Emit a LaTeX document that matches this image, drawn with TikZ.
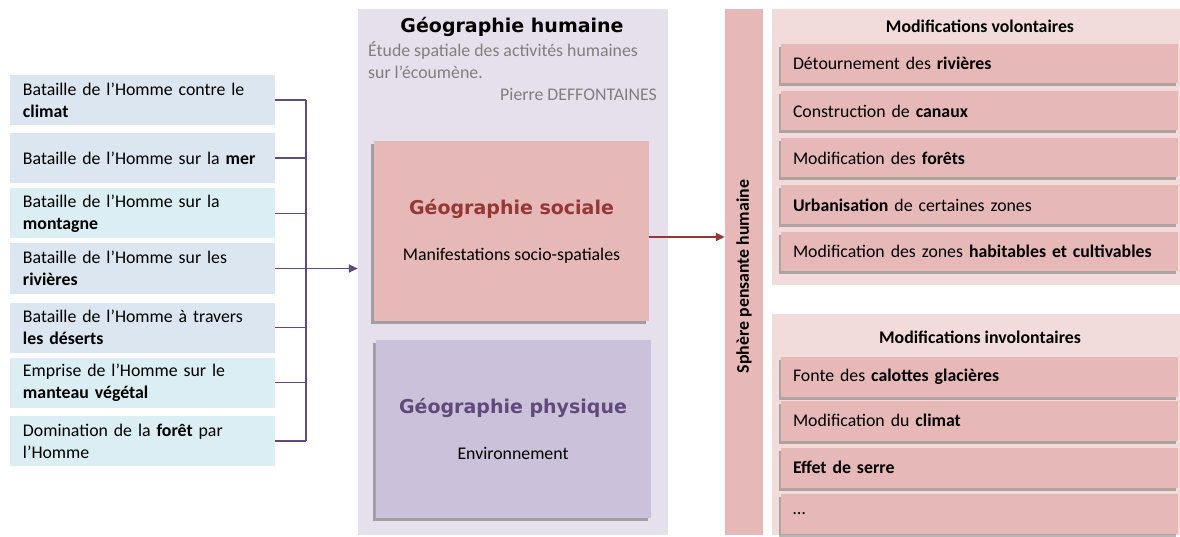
\documentclass[tikz,border=0pt]{standalone}
\usepackage{fontspec}
\setmainfont{Carlito}
\newfontfamily\headfont{DejaVu Sans}
\usetikzlibrary{arrows.meta,shadows}
\definecolor{lblue}{RGB}{220,230,241}
\definecolor{laqua}{RGB}{218,238,243}
\definecolor{busline}{RGB}{96,74,123}
\definecolor{lavend}{RGB}{229,224,236}
\definecolor{srose}{RGB}{230,185,184}
\definecolor{spale}{RGB}{242,220,219}
\definecolor{sred}{RGB}{149,55,53}
\definecolor{pviol}{RGB}{204,193,218}
\definecolor{greytxt}{RGB}{127,127,127}
\newcommand\body{\fontsize{17.8}{22}\selectfont}
\newcommand\head{\headfont\bfseries\fontsize{19}{22}\selectfont}

\begin{document}
\begin{tikzpicture}[x=1pt, y=-1pt,
    lbox/.style={fill=#1, minimum width=265pt, minimum height=50pt,
                 text width=239pt, inner xsep=13pt, inner ysep=0pt,
                 align=left, font=\body},
    bus/.style={draw=busline, line width=1.6pt},
    pan/.style={fill=#1, inner sep=0pt},
    geo/.style={fill=#1, minimum width=275pt, minimum height=180pt,
                align=center, font=\body,
                drop shadow={shadow xshift=-3pt, shadow yshift=-3pt,
                             opacity=0.45, fill=black!70}},
    item/.style={fill=srose, minimum width=397pt, minimum height=39pt,
                 text width=373pt, inner xsep=12pt, inner ysep=0pt,
                 align=left, font=\body,
                 drop shadow={shadow xshift=-2pt, shadow yshift=-3pt,
                              opacity=0.4, fill=black!70}},
    ptitle/.style={font=\body\bfseries}]
  \useasboundingbox (0,0) rectangle (1180,537);

  % ---------- left: the battles of Man --------------------------------------
  \foreach \i/\y/\c/\t in {
      1/100/lblue/{Bataille de l’Homme contre le\\\textbf{climat}},
      2/158/lblue/{Bataille de l’Homme sur la \textbf{mer}},
      3/213.5/laqua/{Bataille de l’Homme sur la\\\textbf{montagne}},
      4/268.5/lblue/{Bataille de l’Homme sur les\\\textbf{rivières}},
      5/327.5/lblue/{Bataille de l’Homme à travers\\\textbf{les déserts}},
      6/382.5/laqua/{Emprise de l’Homme sur le\\\textbf{manteau végétal}},
      7/441/laqua/{Domination de la \textbf{forêt} par\\l’Homme}} {
    \node[lbox=\c] (l\i) at (142.5,\y) {\t};
  }
  \coordinate (bustop) at (306,100);
  \coordinate (busbot) at (306,441);
  \foreach \i in {1,...,7} { \draw[bus] (l\i.east) -- (l\i.east -| bustop); }
  \draw[bus] (bustop) -- (busbot);

  % ---------- centre: human geography ---------------------------------------
  \node[pan=lavend, minimum width=310pt, minimum height=526pt] (hum) at (513,272) {};
  \node[font=\head] (htitle) at (512,27) {Géographie humaine};
  \node[font=\body, color=greytxt, align=left, anchor=north west, inner sep=0pt]
    (hsub) at (368,41) {Étude spatiale des activités humaines\\sur l’écoumène.};
  \node[font=\body, color=greytxt, anchor=east, inner sep=0pt]
    (hauth) at (657,94) {Pierre DEFFONTAINES};
  \draw[bus, -{Triangle[length=9pt,width=8pt]}] (l4.east -| bustop) -- (hum.west |- l4.east);

  \node[geo=srose] (soc) at (511.5,231)
    {{\head\color{sred}Géographie sociale}\\[24pt]Manifestations socio-spatiales};
  \node[geo=pviol, minimum height=178pt] (phy) at (513,429)
    {{\head\color{busline}Géographie physique}\\[24pt]Environnement};

  % ---------- right: the thinking sphere ------------------------------------
  \node[pan=srose, rotate=90, minimum width=526pt, minimum height=38pt,
        font=\body\bfseries] (sph) at (744,272) {Sphère pensante humaine\hspace*{9pt}};
  \draw[sred, line width=1.6pt, -{Triangle[length=9pt,width=8pt]}]
    ([yshift=-6pt]soc.east) -- ([yshift=-6pt]soc.east -| sph.north);

  % voluntary
  \node[pan=spale, minimum width=408pt, minimum height=276pt] (vol) at (976,147) {};
  \node[ptitle] (voltitle) at (980,26) {Modifications volontaires};
  \foreach \i/\y/\t in {
      1/63.5/{Détournement des \textbf{rivières}},
      2/111/{Construction de \textbf{canaux}},
      3/158/{Modification des \textbf{forêts}},
      4/205/{\textbf{Urbanisation} de certaines zones},
      5/251.5/{Modification des zones \textbf{habitables et cultivables}}} {
    \node[item] (v\i) at (979.5,\y) {\t};
  }

  % involuntary
  \node[pan=spale, minimum width=408pt, minimum height=221pt] (inv) at (976,424.5) {};
  \node[ptitle] (invtitle) at (980,337) {Modifications involontaires};
  \foreach \i/\y/\t in {
      1/377/{Fonte des \textbf{calottes glacières}},
      2/420.5/{Modification du \textbf{climat}},
      3/467.5/{\textbf{Effet de serre}},
      4/513.5/{…}} {
    \node[item, minimum height=40pt] (n\i) at (979.5,\y) {\t};
  }
\end{tikzpicture}
\end{document}
